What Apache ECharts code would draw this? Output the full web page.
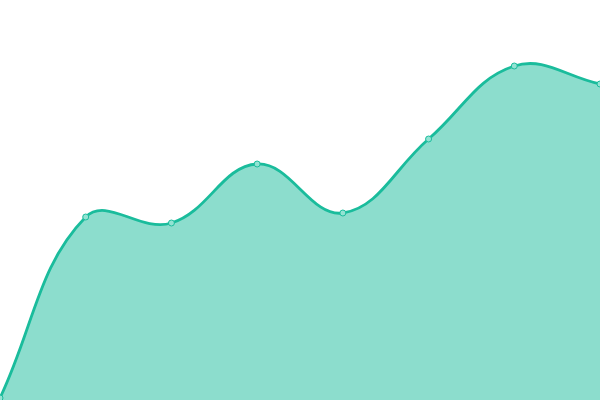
<!DOCTYPE html>
<html><head><meta charset="utf-8">
<script src="https://cdn.jsdelivr.net/npm/echarts@6/dist/echarts.min.js"></script>
<style>html,body{margin:0;padding:0;background:#fff}#c{width:600px;height:400px}</style>
</head><body><div id="c"></div>
<script>
const categories = ['A','B','C','D','E','F','G','H'];
const values = [2, 183, 177, 236, 187, 261, 334, 316];
const yMin = 0, yMax = 400;
const tension = 0.4;

function buildPaths(pts, area) {
  const n = pts.length;
  const cps = [];
  let prev = pts[0];
  for (let i = 0; i < n; i++) {
    const cur = pts[i], next = pts[Math.min(i + 1, n - 1)];
    const d01 = Math.hypot(cur[0] - prev[0], cur[1] - prev[1]);
    const d12 = Math.hypot(next[0] - cur[0], next[1] - cur[1]);
    let s01 = d01 / (d01 + d12), s12 = d12 / (d01 + d12);
    if (isNaN(s01)) s01 = 0; if (isNaN(s12)) s12 = 0;
    const fa = tension * s01, fb = tension * s12;
    const cap = (p) => [Math.max(area.x, Math.min(area.x + area.width, p[0])), Math.max(area.y, Math.min(area.y + area.height, p[1]))];
    cps.push({
      p: cap([cur[0] - fa * (next[0] - prev[0]), cur[1] - fa * (next[1] - prev[1])]),
      n: cap([cur[0] + fb * (next[0] - prev[0]), cur[1] + fb * (next[1] - prev[1])])
    });
    prev = cur;
  }
  let d = 'M' + pts[0][0] + ' ' + pts[0][1];
  for (let i = 1; i < n; i++) {
    d += ' C' + cps[i - 1].n[0] + ' ' + cps[i - 1].n[1] + ' ' + cps[i].p[0] + ' ' + cps[i].p[1] + ' ' + pts[i][0] + ' ' + pts[i][1];
  }
  return d;
}

const chart = echarts.init(document.getElementById('c'));
chart.setOption({
  animation: false,
  grid: {left: 0, right: 0, top: 0, bottom: 0},
  xAxis: {type: 'category', data: categories, boundaryGap: false, show: false},
  yAxis: {type: 'value', min: yMin, max: yMax, show: false},
  series: [{
    type: 'custom',
    data: [0],
    renderItem: function (params, api) {
      const pts = values.map((v, i) => api.coord([i, v]));
      const base = api.coord([0, yMin])[1];
      const cs = params.coordSys;
      const area = {x: cs.x, y: cs.y, width: cs.width, height: cs.height};
      const line = buildPaths(pts, area);
      const fill = line + ' L' + pts[pts.length - 1][0] + ' ' + base + ' L' + pts[0][0] + ' ' + base + ' Z';
      const children = [
        {type: 'path', shape: {pathData: fill}, style: {fill: 'rgba(26,188,156,0.5)', stroke: null}},
        {type: 'path', shape: {pathData: line}, style: {fill: null, stroke: '#1abc9c', lineWidth: 2.8}}
      ];
      pts.forEach(p => children.push({type: 'circle', shape: {cx: p[0], cy: p[1], r: 3}, style: {fill: '#93e3d3', stroke: '#1abc9c', lineWidth: 1}}));
      return {type: 'group', children: children};
    }
  }]
});
</script></body></html>
